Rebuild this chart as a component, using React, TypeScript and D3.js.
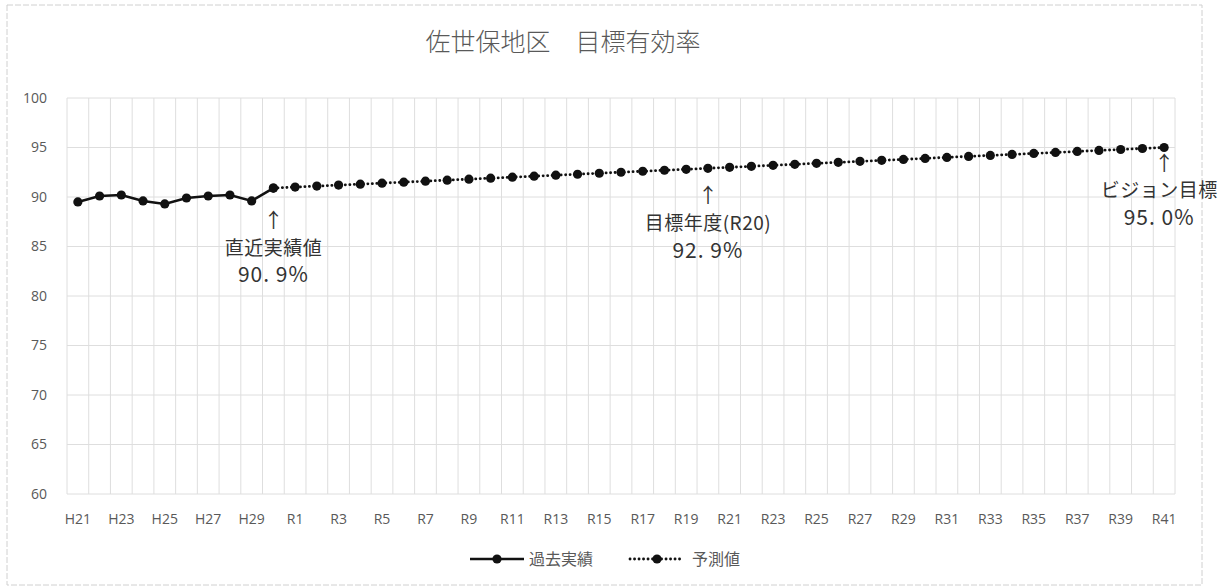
import React from 'react';
import * as d3 from 'd3';

const TITLE = '佐世保地区　目標有効率';

const CATEGORIES = [
  'H21', 'H22', 'H23', 'H24', 'H25', 'H26', 'H27', 'H28', 'H29', 'H30',
  'R1', 'R2', 'R3', 'R4', 'R5', 'R6', 'R7', 'R8', 'R9', 'R10',
  'R11', 'R12', 'R13', 'R14', 'R15', 'R16', 'R17', 'R18', 'R19', 'R20',
  'R21', 'R22', 'R23', 'R24', 'R25', 'R26', 'R27', 'R28', 'R29', 'R30',
  'R31', 'R32', 'R33', 'R34', 'R35', 'R36', 'R37', 'R38', 'R39', 'R40', 'R41',
];

// 過去実績 H21..H30
const PAST = [89.5, 90.1, 90.2, 89.6, 89.3, 89.9, 90.1, 90.2, 89.6, 90.9];

// 予測値 H30..R41
const FORECAST = [
  90.9,
  91.0, 91.1, 91.2, 91.3, 91.4, 91.5, 91.6, 91.7, 91.8, 91.9,
  92.0, 92.1, 92.2, 92.3, 92.4, 92.5, 92.6, 92.7, 92.8, 92.9,
  93.0, 93.1, 93.2, 93.3, 93.4, 93.5, 93.6, 93.7, 93.8, 93.9,
  94.0, 94.1, 94.2, 94.3, 94.4, 94.5, 94.6, 94.7, 94.8, 94.9,
  95.0,
];

const Y_TICKS = [60, 65, 70, 75, 80, 85, 90, 95, 100];

const NOTE_CATS = ['H30', 'R20', 'R41'];
const NOTE_LABELS = ['直近実績値', '目標年度(R20)', 'ビジョン目標'];
const NOTE_VALUES = ['90. 9%', '92. 9%', '95. 0%'];

// pixel gap below the point for each note (arrow top), and text shift
const NOTE_GAP = [24, 19, 7];
const NOTE_SHIFT = [0, 0, -5];

const W = 1220;
const H = 588;
const GRAY = '#595959';
const GRID = '#dedede';
const JP = '"Noto Sans CJK JP", "Noto Sans", sans-serif';
const LATIN = '"Open Sans", "Noto Sans", sans-serif';

export default function App() {
  const x = d3.scaleBand<string>().domain(CATEGORIES).range([67, 1175]).padding(0);
  const y = d3.scaleLinear().domain([60, 100]).range([494, 98]);
  const cx = (c: string) => (x(c) ?? 0) + x.bandwidth() / 2;

  const pastData = PAST.map((v, i) => ({ c: CATEGORIES[i], v }));
  const fcData = FORECAST.map((v, i) => ({ c: CATEGORIES[i + PAST.length - 1], v }));

  const line = d3.line<{ c: string; v: number }>().x((d) => cx(d.c)).y((d) => y(d.v));

  const boundaries = CATEGORIES.map((c) => x(c) ?? 0).concat([x.range()[1]]);
  const [x0, x1] = x.range();

  return (
    <svg width={W} height={H} style={{ position: 'absolute', left: 0, top: 0, background: '#fff' }}>
      <rect x={7} y={5} width={1195} height={580} fill="#fff" stroke="#d0d0d0" strokeDasharray="6 2" />
      <text x={563} y={51} textAnchor="middle" fontFamily={JP} fontWeight={300} fontSize={25} fill={GRAY}>
        {TITLE}
      </text>

      {/* grid */}
      {Y_TICKS.map((t) => (
        <line key={'h' + t} x1={x0} x2={x1} y1={y(t)} y2={y(t)} stroke={GRID} strokeWidth={1} />
      ))}
      {boundaries.map((b, i) => (
        <line key={'v' + i} x1={b} x2={b} y1={y(100)} y2={y(60)} stroke={GRID} strokeWidth={1} />
      ))}

      {/* axes labels */}
      {Y_TICKS.map((t) => (
        <text key={'yl' + t} x={47} y={y(t)} dy="0.35em" textAnchor="end" fontFamily={LATIN} fontSize={14} fill={GRAY}>
          {t}
        </text>
      ))}
      {CATEGORIES.filter((_, i) => i % 2 === 0).map((c) => (
        <text key={'xl' + c} x={cx(c)} y={519} dy="0.35em" textAnchor="middle" fontFamily={LATIN} fontSize={14} fill={GRAY}>
          {c}
        </text>
      ))}

      {/* series */}
      <path d={line(fcData) ?? ''} fill="none" stroke="#111" strokeWidth={2.8} strokeDasharray="0.1 4.4" strokeLinecap="round" />
      <path d={line(pastData) ?? ''} fill="none" stroke="#111" strokeWidth={2.6} />
      {fcData.map((d) => (
        <circle key={'f' + d.c} cx={cx(d.c)} cy={y(d.v)} r={4.6} fill="#111" />
      ))}
      {pastData.map((d) => (
        <circle key={'p' + d.c} cx={cx(d.c)} cy={y(d.v)} r={4.6} fill="#111" />
      ))}

      {/* annotations */}
      {NOTE_CATS.map((c, i) => {
        const px = cx(c);
        const v = FORECAST[CATEGORIES.indexOf(c) - PAST.length + 1];
        const top = y(v) + NOTE_GAP[i];
        const tx = px + NOTE_SHIFT[i];
        return (
          <g key={'n' + c} fontFamily={JP} fill="#333">
            <text x={px} y={top + 16} textAnchor="middle" fontSize={20}>↑</text>
            <text x={tx} y={top + 36} dy="0.35em" textAnchor="middle" fontSize={19} letterSpacing={0.5}>{NOTE_LABELS[i]}</text>
            <text x={tx} y={top + 63} dy="0.35em" textAnchor="middle" fontSize={21} letterSpacing={1}>{NOTE_VALUES[i]}</text>
          </g>
        );
      })}

      {/* legend */}
      <line x1={470} x2={524} y1={559} y2={559} stroke="#111" strokeWidth={2.6} />
      <circle cx={497} cy={559} r={4.6} fill="#111" />
      <text x={529} y={559} dy="0.35em" fontFamily={JP} fontSize={16} fill={GRAY}>過去実績</text>
      <line x1={630} x2={682} y1={559} y2={559} stroke="#111" strokeWidth={2.8} strokeDasharray="0.1 4.4" strokeLinecap="round" />
      <circle cx={657} cy={559} r={4.6} fill="#111" />
      <text x={692} y={559} dy="0.35em" fontFamily={JP} fontSize={16} fill={GRAY}>予測値</text>
    </svg>
  );
}
